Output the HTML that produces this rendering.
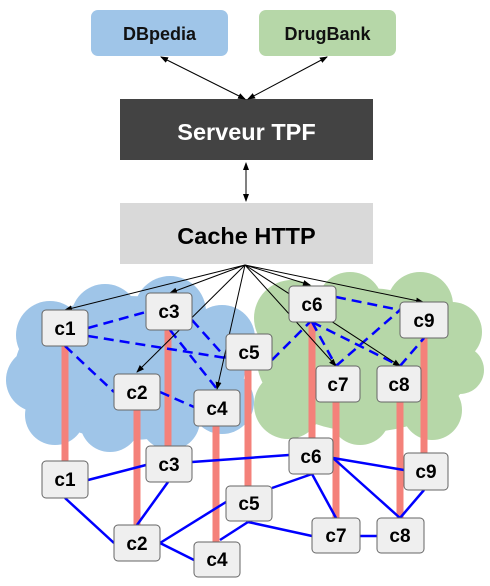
<!DOCTYPE html>
<html><head><meta charset="utf-8"><style>body{margin:0;background:#fff}svg{display:block}</style></head><body>
<svg width="490" height="586" viewBox="0 0 490 586" xmlns="http://www.w3.org/2000/svg" font-family="Liberation Sans, sans-serif" font-weight="bold">
<defs><marker id="a" markerWidth="8" markerHeight="6" refX="7" refY="3" orient="auto-start-reverse" markerUnits="userSpaceOnUse"><path d="M0,0 L8,3 L0,6 z" fill="#000"/></marker></defs>
<rect x="91" y="10" width="137" height="46" rx="7" fill="#9fc5e8"/>
<text x="159.5" y="40" font-size="18" text-anchor="middle" fill="#111">DBpedia</text>
<rect x="259" y="10" width="137" height="46" rx="7" fill="#b6d7a8"/>
<text x="327.5" y="40" font-size="18" text-anchor="middle" fill="#111">DrugBank</text>
<rect x="120" y="99" width="253" height="61" fill="#434343"/>
<text x="246.5" y="140" font-size="23.5" text-anchor="middle" fill="#fff">Serveur TPF</text>
<rect x="120" y="203" width="253" height="61" fill="#d9d9d9"/>
<text x="246.5" y="244" font-size="23.5" text-anchor="middle" fill="#000">Cache HTTP</text>
<g stroke="#000" stroke-width="1" marker-start="url(#a)" marker-end="url(#a)">
<line x1="161" y1="57" x2="245" y2="99"/><line x1="327" y1="57" x2="248" y2="99"/><line x1="246" y1="163" x2="246" y2="201"/>
</g>
<g fill="#9fc5e8">
<ellipse cx="130" cy="368" rx="115" ry="72"/>
<circle cx="50" cy="335" r="34"/><circle cx="105" cy="318" r="34"/><circle cx="170" cy="312" r="36"/><circle cx="222" cy="338" r="33"/>
<circle cx="38" cy="380" r="32"/><circle cx="55" cy="415" r="30"/><circle cx="110" cy="422" r="30"/><circle cx="170" cy="420" r="30"/><circle cx="222" cy="402" r="32"/>
</g>
<g fill="#b6d7a8">
<ellipse cx="365" cy="360" rx="108" ry="72"/>
<circle cx="292" cy="318" r="38"/><circle cx="350" cy="305" r="33"/><circle cx="420" cy="305" r="33"/><circle cx="452" cy="332" r="30"/>
<circle cx="460" cy="370" r="24"/><circle cx="432" cy="410" r="30"/><circle cx="360" cy="415" r="30"/><circle cx="288" cy="405" r="34"/>
</g>
<g stroke="#f4817a" stroke-width="7">
<line x1="65" y1="346" x2="65" y2="461"/><line x1="137" y1="410" x2="137" y2="525"/><line x1="168" y1="330" x2="168" y2="446"/>
<line x1="216" y1="426" x2="216" y2="542"/><line x1="248" y1="370" x2="248" y2="486"/><line x1="312" y1="322" x2="312" y2="438"/>
<line x1="336" y1="402" x2="336" y2="518"/><line x1="400" y1="402" x2="400" y2="518"/><line x1="424" y1="338" x2="424" y2="453"/>
</g>
<g stroke="#0000ff" stroke-width="2.5" stroke-dasharray="10,6" fill="none">
<line x1="88" y1="328" x2="146" y2="312"/><line x1="88" y1="336" x2="226" y2="358"/><line x1="65" y1="346" x2="114" y2="392"/>
<line x1="160" y1="392" x2="194" y2="407"/><line x1="170" y1="330" x2="217" y2="389"/><line x1="192" y1="320" x2="226" y2="358"/>
<line x1="272" y1="360" x2="310" y2="322"/><line x1="336" y1="297" x2="400" y2="310"/><line x1="312" y1="322" x2="400" y2="366"/>
<line x1="312" y1="322" x2="336" y2="366"/><line x1="336" y1="366" x2="400" y2="310"/><line x1="400" y1="366" x2="424" y2="338"/>
</g>
<g stroke="#0000ff" stroke-width="2.5">
<line x1="88" y1="480" x2="146" y2="465"/><line x1="192" y1="462" x2="289" y2="455"/><line x1="65" y1="498" x2="114" y2="543"/>
<line x1="168" y1="482" x2="137" y2="525"/><line x1="160" y1="543" x2="226" y2="502"/><line x1="160" y1="543" x2="194" y2="560"/>
<line x1="220" y1="540" x2="248" y2="522"/><line x1="248" y1="522" x2="312" y2="536"/><line x1="272" y1="488" x2="312" y2="474"/>
<line x1="312" y1="474" x2="336" y2="518"/><line x1="333" y1="458" x2="404" y2="470"/><line x1="333" y1="458" x2="400" y2="518"/>
<line x1="424" y1="490" x2="400" y2="518"/><line x1="360" y1="536" x2="377" y2="536"/>
</g>
<g stroke="#000" stroke-width="1" marker-end="url(#a)">
<line x1="245" y1="265" x2="65" y2="310"/><line x1="245" y1="265" x2="170" y2="293"/><line x1="245" y1="265" x2="137" y2="372"/>
<line x1="245" y1="265" x2="217" y2="389"/><line x1="245" y1="265" x2="310" y2="285"/><line x1="245" y1="265" x2="423" y2="302"/>
<line x1="245" y1="265" x2="336" y2="366"/><line x1="245" y1="265" x2="400" y2="366"/>
</g>
<g fill="#efefef" stroke="#666" stroke-width="1">
<rect x="42" y="310" width="46" height="36" rx="4"/><rect x="146" y="293" width="46" height="37" rx="4"/><rect x="226" y="334" width="46" height="36" rx="4"/>
<rect x="114" y="374" width="46" height="36" rx="4"/><rect x="194" y="390" width="46" height="36" rx="4"/><rect x="289" y="286" width="47" height="36" rx="4"/>
<rect x="400" y="302" width="48" height="36" rx="4"/><rect x="316" y="366" width="44" height="36" rx="4"/><rect x="377" y="366" width="44" height="36" rx="4"/>
<rect x="42" y="461" width="46" height="37" rx="4"/><rect x="146" y="446" width="46" height="36" rx="4"/><rect x="289" y="438" width="44" height="36" rx="4"/>
<rect x="404" y="453" width="44" height="37" rx="4"/><rect x="226" y="486" width="46" height="35" rx="4"/><rect x="114" y="525" width="46" height="36" rx="4"/>
<rect x="194" y="542" width="46" height="35" rx="4"/><rect x="312" y="518" width="48" height="35" rx="4"/><rect x="377" y="518" width="47" height="35" rx="4"/>
</g>
<g font-size="19" text-anchor="middle" fill="#000">
<text x="65" y="335">c1</text><text x="169" y="318">c3</text><text x="249" y="359">c5</text>
<text x="137" y="399">c2</text><text x="217" y="415">c4</text><text x="312" y="311">c6</text>
<text x="424" y="327">c9</text><text x="338" y="391">c7</text><text x="399" y="391">c8</text>
<text x="65" y="486">c1</text><text x="169" y="471">c3</text><text x="311" y="463">c6</text>
<text x="426" y="478">c9</text><text x="249" y="510">c5</text><text x="137" y="550">c2</text>
<text x="217" y="566">c4</text><text x="336" y="542">c7</text><text x="400" y="542">c8</text>
</g>
</svg>
</body></html>
